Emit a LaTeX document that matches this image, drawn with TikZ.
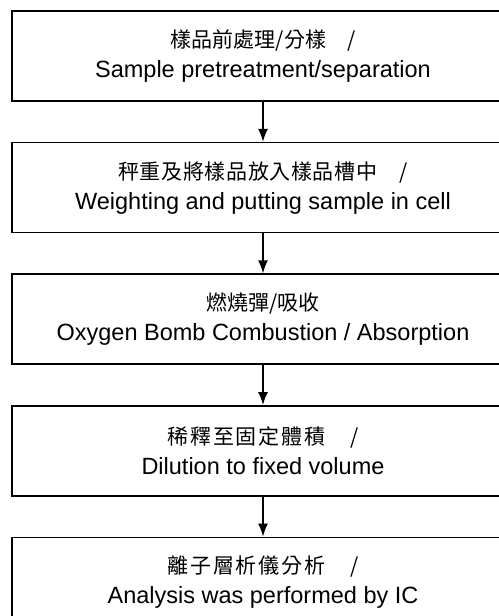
\documentclass[tikz,border=0pt]{standalone}
\usepackage{fontspec}
\setmainfont{Liberation Sans}
\newfontfamily\cjk{Noto Sans CJK TC}
\usetikzlibrary{positioning}
\usetikzlibrary{chains,arrows.meta}
\newcommand{\zh}[2][0]{{\cjk\addfontfeature{LetterSpace=#1}\fontsize{21bp}{30bp}\selectfont #2}}
\tikzset{
	>={Latex[length=13bp,width=10bp]},
	stepbox/.style={
		rectangle,
		draw=black, line width=1.6bp,
		minimum width=502bp,
		minimum height=90bp,
		align=center,
		font=\fontsize{23.5bp}{30bp}\selectfont,
		on chain},
	every join/.style={->, line width=1.6bp},
}
\begin{document}
\begin{tikzpicture}
	[x=1bp,y=-1bp,node distance=40bp,
	start chain=going below]
	\useasboundingbox (0,0) rectangle (499,616);
	\node[stepbox] at (263,56) (prep) {\zh{樣品前處理/分樣　/}\\Sample pretreatment/separation};
	\node[stepbox, join] (weigh) {\zh[3]{秤重及將樣品放入樣品槽中　/}\\Weighting and putting sample in cell};
	\node[stepbox, join] (bomb) {\zh{燃燒彈/吸收}\\Oxygen Bomb Combustion / Absorption};
	\node[stepbox, join] (dilute) {\zh[9]{稀釋至固定體積　/}\\Dilution to fixed volume};
	\node[stepbox, join] (ic) {\zh[9]{離子層析儀分析　/}\\Analysis was performed by IC};
\end{tikzpicture}
\end{document}
